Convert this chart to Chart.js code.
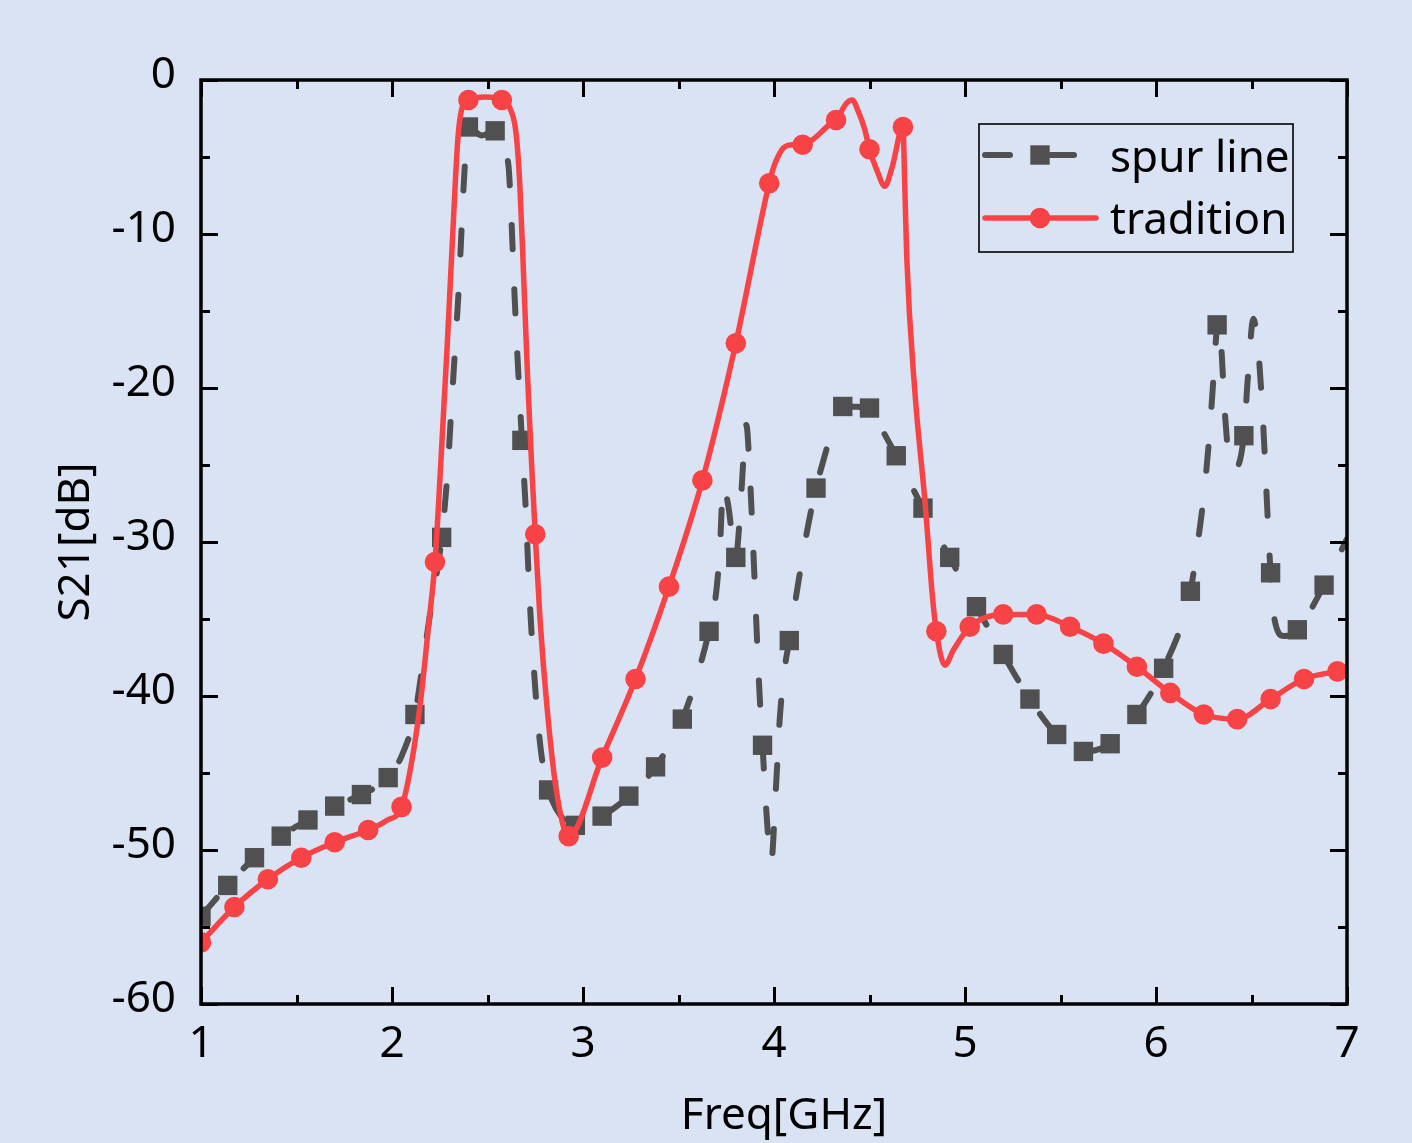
<!DOCTYPE html>
<html>
<head>
<meta charset="utf-8">
<script src="https://cdn.jsdelivr.net/npm/chart.js@4/dist/chart.umd.min.js"></script>
<style>
html,body{margin:0;padding:0;background:#DAE3F3;}
#wrap{width:1412px;height:1143px;position:relative;}
canvas{display:block;}
</style>
</head>
<body>
<div id="wrap"><canvas id="c" width="1412" height="1143"></canvas></div>
<script>
// ---------- data ----------
const xTicks = [1, 2, 3, 4, 5, 6, 7];
const yTicks = [0, -10, -20, -30, -40, -50, -60];

const spurFreq = [1.00,1.14,1.28,1.42,1.56,1.70,1.84,1.98,2.05,2.12,2.16,2.20,2.26,2.29,2.31,2.33,2.35,2.365,2.38,2.40,2.47,2.54,2.57,2.61,2.625,2.64,2.655,2.67,2.68,2.70,2.72,2.75,2.78,2.82,2.89,2.96,3.10,3.24,3.38,3.52,3.59,3.66,3.69,3.715,3.735,3.76,3.80,3.82,3.84,3.855,3.875,3.895,3.91,3.925,3.94,3.96,3.985,4.01,4.03,4.055,4.08,4.12,4.17,4.22,4.27,4.31,4.36,4.50,4.57,4.64,4.78,4.92,5.06,5.20,5.34,5.48,5.62,5.76,5.90,6.04,6.18,6.21,6.25,6.28,6.30,6.32,6.33,6.345,6.36,6.385,6.41,6.46,6.48,6.51,6.535,6.555,6.57,6.585,6.60,6.62,6.67,6.74,6.88,7.00];
const spurS21 = [-54.3,-52.3,-50.5,-49.1,-48.05,-47.15,-46.4,-45.3,-43.9,-41.2,-38.0,-34.6,-29.7,-25.6,-21.5,-17.5,-13.4,-9.5,-5.8,-3.05,-3.6,-3.3,-4.0,-5.6,-9.0,-13.5,-17.5,-21.0,-23.4,-27.8,-33.5,-39.5,-43.6,-46.1,-47.9,-48.4,-47.8,-46.5,-44.6,-41.5,-39.0,-35.8,-34.0,-30.8,-26.3,-27.6,-31.0,-28.6,-24.6,-22.4,-26.0,-31.5,-36.0,-40.0,-43.2,-47.5,-50.8,-46.0,-41.5,-38.3,-36.4,-33.2,-29.5,-26.5,-24.2,-22.4,-21.2,-21.3,-22.8,-24.4,-27.8,-31.0,-34.2,-37.3,-40.2,-42.5,-43.6,-43.1,-41.2,-38.2,-33.2,-30.8,-27.0,-23.0,-19.5,-15.9,-15.3,-18.0,-21.5,-24.8,-25.3,-23.1,-19.5,-15.5,-17.5,-21.0,-24.5,-28.5,-32.0,-35.0,-36.1,-35.7,-32.8,-29.8];
const spurMarkerFreq = [1.00,1.14,1.28,1.42,1.56,1.70,1.84,1.98,2.12,2.26,2.40,2.54,2.68,2.82,2.96,3.10,3.24,3.38,3.52,3.66,3.80,3.94,4.08,4.22,4.36,4.50,4.64,4.78,4.92,5.06,5.20,5.34,5.48,5.62,5.76,5.90,6.04,6.18,6.32,6.46,6.60,6.74,6.88];

const tradFreq = [1.00,1.175,1.35,1.525,1.70,1.875,1.97,2.05,2.10,2.15,2.19,2.225,2.255,2.29,2.32,2.345,2.365,2.40,2.49,2.575,2.62,2.65,2.67,2.69,2.71,2.73,2.75,2.775,2.81,2.86,2.925,3.10,3.275,3.45,3.625,3.80,3.975,4.00,4.02,4.05,4.10,4.15,4.20,4.29,4.325,4.38,4.41,4.44,4.475,4.50,4.54,4.58,4.62,4.675,4.685,4.695,4.738,4.79,4.83,4.85,4.895,4.94,5.025,5.20,5.375,5.55,5.725,5.90,6.075,6.25,6.425,6.60,6.775,6.95,7.00];
const tradS21 = [-56.0,-53.7,-51.9,-50.5,-49.5,-48.7,-48.1,-47.2,-44.5,-40.3,-35.6,-31.3,-25.0,-17.0,-9.5,-3.8,-1.9,-1.3,-1.1,-1.3,-1.9,-3.5,-7.0,-13.0,-19.3,-24.7,-29.5,-35.0,-40.5,-46.1,-49.1,-44.0,-38.9,-32.9,-26.0,-17.1,-6.7,-5.6,-5.0,-4.4,-4.2,-4.2,-3.9,-2.9,-2.6,-1.5,-1.3,-2.0,-3.2,-4.5,-5.9,-6.9,-5.6,-3.05,-7.0,-11.5,-20.3,-27.3,-33.6,-35.8,-38.0,-37.0,-35.5,-34.7,-34.7,-35.5,-36.6,-38.1,-39.8,-41.2,-41.5,-40.2,-38.9,-38.4,-38.3];
const tradMarkerFreq = [1.00,1.175,1.35,1.525,1.70,1.875,2.05,2.225,2.40,2.575,2.75,2.925,3.10,3.275,3.45,3.625,3.80,3.975,4.15,4.325,4.50,4.675,4.85,5.025,5.20,5.375,5.55,5.725,5.90,6.075,6.25,6.425,6.60,6.775,6.95];

const seriesNames = ['spur line', 'tradition'];
const xTitle = 'Freq[GHz]';
const yTitle = 'S21[dB]';

// ---------- chart ----------
const GRAY = '#505050';
const RED = '#F84346';
const FONT = 'Noto Sans';

function toPoints(xs, ys) { return xs.map((x, i) => ({x: x, y: ys[i]})); }
function isMarker(list, x) { return list.some(m => Math.abs(m - x) < 1e-6); }

const frameAndLegend = {
  id: 'frameAndLegend',
  afterDraw(chart) {
    const ctx = chart.ctx;
    const {left, right, top, bottom} = chart.chartArea;
    const xs = chart.scales.x, ys = chart.scales.y;
    ctx.save();
    ctx.strokeStyle = '#000';
    ctx.lineCap = 'butt';
    ctx.lineWidth = 3;
    const majX = xs.ticks.map(t => t.value);
    const majY = ys.ticks.map(t => t.value);
    const minX = [], minY = [];
    for (let i = 0; i < majX.length - 1; i++) minX.push((majX[i] + majX[i + 1]) / 2);
    for (let i = 0; i < majY.length - 1; i++) minY.push((majY[i] + majY[i + 1]) / 2);
    function seg(x1, y1, x2, y2) { ctx.beginPath(); ctx.moveTo(x1, y1); ctx.lineTo(x2, y2); ctx.stroke(); }
    majX.forEach(v => { const p = Math.round(xs.getPixelForValue(v)) + 0.5; seg(p, bottom, p, bottom - 17); seg(p, top, p, top + 17); });
    minX.forEach(v => { const p = Math.round(xs.getPixelForValue(v)) + 0.5; seg(p, bottom, p, bottom - 9); seg(p, top, p, top + 9); });
    majY.forEach(v => { const p = Math.round(ys.getPixelForValue(v)) + 0.5; seg(left, p, left + 17, p); seg(right, p, right - 17, p); });
    minY.forEach(v => { const p = Math.round(ys.getPixelForValue(v)) + 0.5; seg(left, p, left + 9, p); seg(right, p, right - 9, p); });
    ctx.lineWidth = 3.5;
    ctx.strokeRect(left, top, right - left, bottom - top);

    // x axis title (slightly right of centre, as in the original)
    ctx.fillStyle = '#000';
    ctx.font = '44px "' + FONT + '"';
    ctx.textAlign = 'center'; ctx.textBaseline = 'middle';
    ctx.fillText(xTitle, (left + right) / 2 + 10, 1116);

    // legend
    const lx = 979, ly = 124, lw = 314, lh = 128;
    ctx.lineWidth = 1.8;
    ctx.strokeStyle = '#1a1a1a';
    ctx.strokeRect(lx, ly, lw, lh);
    const y1 = 155, y2 = 218;
    ctx.strokeStyle = GRAY; ctx.lineWidth = 6; ctx.lineCap = 'round';
    seg(985, y1, 1010, y1); seg(1050, y1, 1074, y1);
    ctx.fillStyle = GRAY;
    ctx.fillRect(1040 - 9.7, y1 - 9.7, 19.4, 19.4);
    ctx.strokeStyle = RED; ctx.lineWidth = 5.5; ctx.lineCap = 'round';
    seg(985, y2, 1096, y2);
    ctx.fillStyle = RED;
    ctx.beginPath(); ctx.arc(1040, y2, 10.3, 0, Math.PI * 2); ctx.fill();
    ctx.fillStyle = '#000';
    ctx.textAlign = 'left'; ctx.textBaseline = 'middle';
    ctx.fillText(seriesNames[0], 1110, y1 + 4);
    ctx.fillText(seriesNames[1], 1110, y2 + 3);
    ctx.restore();
  }
};

const tickFont = {family: FONT, size: 44};

new Chart(document.getElementById('c'), {
  type: 'line',
  data: {
    datasets: [
      {
        label: seriesNames[0],
        data: toPoints(spurFreq, spurS21),
        borderColor: GRAY,
        backgroundColor: GRAY,
        borderWidth: 6,
        borderDash: [24, 40],
        borderCapStyle: 'round',
        borderJoinStyle: 'round',
        cubicInterpolationMode: 'monotone',
        pointStyle: 'rect',
        pointRadius: c => isMarker(spurMarkerFreq, c.raw.x) ? 13.7 : 0,
        pointBorderWidth: 0,
        pointBackgroundColor: GRAY,
        pointHoverRadius: 0,
        order: 2
      },
      {
        label: seriesNames[1],
        data: toPoints(tradFreq, tradS21),
        borderColor: RED,
        backgroundColor: RED,
        borderWidth: 5.5,
        borderCapStyle: 'round',
        borderJoinStyle: 'round',
        cubicInterpolationMode: 'monotone',
        pointStyle: 'circle',
        pointRadius: c => isMarker(tradMarkerFreq, c.raw.x) ? 10.3 : 0,
        pointBorderWidth: 0,
        pointBackgroundColor: RED,
        pointHoverRadius: 0,
        order: 1
      }
    ]
  },
  options: {
    responsive: false,
    animation: false,
    devicePixelRatio: 1,
    events: [],
    layout: {padding: {top: 80, right: 65, left: 0, bottom: 0}},
    plugins: {legend: {display: false}, tooltip: {enabled: false}},
    scales: {
      x: {
        type: 'linear', min: 1, max: 7,
        afterBuildTicks: s => { s.ticks = xTicks.map(v => ({value: v})); },
        afterFit: s => { s.height = 139; },
        grid: {display: false},
        border: {display: false},
        ticks: {font: tickFont, color: '#000', padding: 6, autoSkip: false, maxRotation: 0},
        title: {display: false}
      },
      y: {
        type: 'linear', min: -60, max: 0,
        afterBuildTicks: s => { s.ticks = yTicks.map(v => ({value: v})); },
        afterFit: s => { s.width = 201; },
        grid: {display: false},
        border: {display: false},
        ticks: {font: tickFont, color: '#000', padding: 17, autoSkip: false, labelOffset: -5},
        title: {display: true, text: yTitle, font: tickFont, color: '#000', padding: {top: 50, bottom: 0}}
      }
    }
  },
  plugins: [frameAndLegend]
});
</script>
</body>
</html>
